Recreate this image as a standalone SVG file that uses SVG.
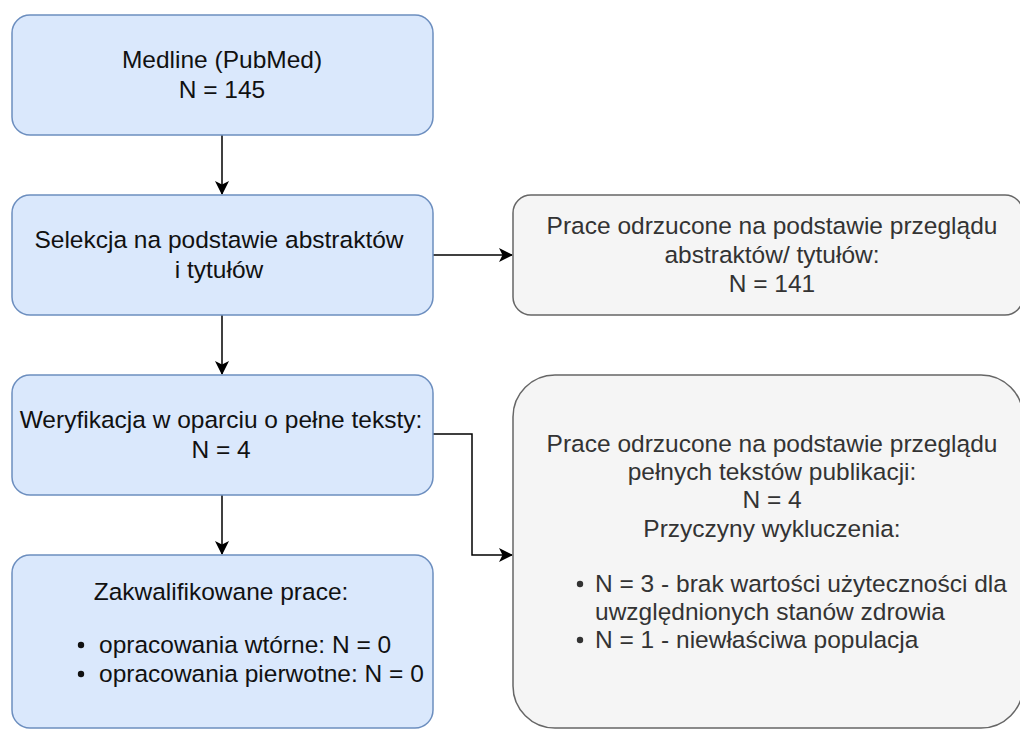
<svg xmlns="http://www.w3.org/2000/svg" width="1020" height="729" viewBox="0 0 1020 729">
<style>
.blue{fill:#dae8fc;stroke:#6c8ebf;stroke-width:1.5}
.gray{fill:#f5f5f5;stroke:#666666;stroke-width:1.5}
text{font-family:"Liberation Sans",Arial,sans-serif;font-size:24.5px}
.tb{fill:#111111}
.tg{fill:#333333}
.c{text-anchor:middle}
.edge{fill:none;stroke:#000;stroke-width:1.5}
</style>
<defs>
<marker id="arr" viewBox="0 0 14 14" refX="13" refY="7" markerWidth="14" markerHeight="14" markerUnits="userSpaceOnUse" orient="auto">
<path d="M0,0 L14,7 L0,14 L3.5,7 Z" fill="#000"/>
</marker>
</defs>
<rect width="1020" height="729" fill="#ffffff"/>
<g id="connectors">
<path class="edge" d="M222,135 V194" marker-end="url(#arr)"/>
<path class="edge" d="M222,315 V374" marker-end="url(#arr)"/>
<path class="edge" d="M222,495 V554" marker-end="url(#arr)"/>
<path class="edge" d="M433,255 H512" marker-end="url(#arr)"/>
<path class="edge" d="M433,434 H472 V555 H512" marker-end="url(#arr)"/>
</g>
<g id="medline">
<rect class="blue" x="12" y="15" width="421" height="120" rx="18"/>
<text class="tb c" x="222" y="68">Medline (PubMed)</text>
<text class="tb c" x="222" y="98">N = 145</text>
</g>
<g id="selekcja">
<rect class="blue" x="12" y="195" width="421" height="120" rx="18"/>
<text class="tb c" x="219" y="248">Selekcja na podstawie abstraktów</text>
<text class="tb c" x="219" y="278">i tytułów</text>
</g>
<g id="weryfikacja">
<rect class="blue" x="12" y="375" width="421" height="120" rx="18"/>
<text class="tb c" x="221" y="428">Weryfikacja w oparciu o pełne teksty:</text>
<text class="tb c" x="221" y="458">N = 4</text>
</g>
<g id="zakwalifikowane">
<rect class="blue" x="12" y="555" width="421" height="173" rx="18"/>
<text class="tb c" x="221" y="600">Zakwalifikowane prace:</text>
<circle cx="81" cy="645" r="3.2" fill="#111"/>
<text class="tb" x="99" y="653">opracowania wtórne: N = 0</text>
<circle cx="81" cy="674" r="3.2" fill="#111"/>
<text class="tb" x="99" y="682">opracowania pierwotne: N = 0</text>
</g>
<g id="odrzucone-abstrakty">
<rect class="gray" x="513" y="195" width="510" height="120" rx="18"/>
<text class="tg c" x="772" y="234">Prace odrzucone na podstawie przeglądu</text>
<text class="tg c" x="772" y="263">abstraktów/ tytułów:</text>
<text class="tg c" x="772" y="292">N = 141</text>
</g>
<g id="odrzucone-pelne">
<rect class="gray" x="513" y="375" width="510" height="353" rx="42"/>
<text class="tg c" x="772" y="452">Prace odrzucone na podstawie przeglądu</text>
<text class="tg c" x="772" y="480">pełnych tekstów publikacji:</text>
<text class="tg c" x="772" y="508">N = 4</text>
<text class="tg c" x="772" y="537">Przyczyny wykluczenia:</text>
<circle cx="580" cy="584" r="3.2" fill="#333"/>
<text class="tg" x="595" y="592">N = 3 - brak wartości użyteczności dla</text>
<text class="tg" x="595" y="620">uwzględnionych stanów zdrowia</text>
<circle cx="580" cy="640" r="3.2" fill="#333"/>
<text class="tg" x="595" y="648">N = 1 - niewłaściwa populacja</text>
</g>
</svg>
